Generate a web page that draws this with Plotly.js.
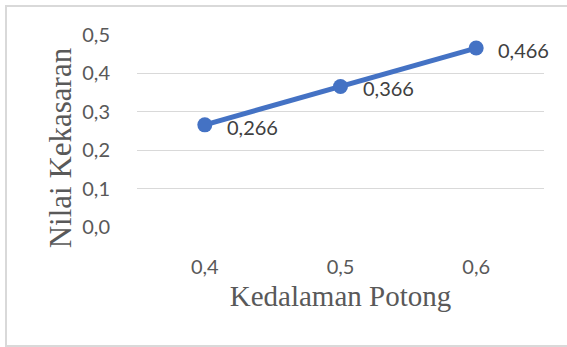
<!DOCTYPE html>
<html>
<head>
<meta charset="utf-8">
<script src="https://cdn.plot.ly/plotly-3.0.1.min.js"></script>
<style>
html,body{margin:0;padding:0;background:#fff;}
#wrap{position:relative;width:567px;height:347px;overflow:hidden;}
#chart{width:567px;height:347px;}
#frame{position:absolute;left:5px;top:5px;width:570px;height:338px;border:2px solid #d9d9d9;pointer-events:none;}
</style>
</head>
<body>
<div id="wrap"><div id="chart"></div><div id="frame"></div></div>
<script>
const categories = ["0,4", "0,5", "0,6"];
const values = [0.266, 0.366, 0.466];
const valueLabels = ["0,266", "0,366", "0,466"];
const yTickVals = [0, 0.1, 0.2, 0.3, 0.4, 0.5];
const yTickText = ["0,0", "0,1", "0,2", "0,3", "0,4", "0,5"];
const xTitle = "Kedalaman Potong";
const yTitle = "Nilai Kekasaran";

const labelFont = {family: "Lato, 'Open Sans', sans-serif", size: 20, color: "#404040"};

const trace = {
  x: categories,
  y: values,
  type: "scatter",
  mode: "lines+markers",
  line: {color: "#4472C4", width: 5},
  marker: {color: "#4472C4", size: 15},
  cliponaxis: false,
  hoverinfo: "none"
};

const annotations = categories.map((c, i) => ({
  x: c, y: values[i], xref: "x", yref: "y",
  text: valueLabels[i], showarrow: false,
  xanchor: "left", yanchor: "middle",
  xshift: 20, yshift: -2,
  font: labelFont
}));
annotations.push({
  xref: "paper", yref: "paper", x: -0.189, y: 0.41,
  text: yTitle, showarrow: false, textangle: -90,
  xanchor: "center", yanchor: "middle",
  font: {family: "'Liberation Serif', serif", size: 31, color: "#595959"}
});

const layout = {
  width: 567, height: 347,
  margin: {l: 137, r: 23, t: 35, b: 120},
  paper_bgcolor: "#fff", plot_bgcolor: "#fff",
  showlegend: false,
  annotations: annotations,
  xaxis: {
    type: "category",
    range: [-0.5, 2.5],
    showgrid: false, zeroline: false, showline: false,
    ticks: "outside", ticklen: 22, tickcolor: "rgba(0,0,0,0)",
    tickfont: {family: "Lato, 'Open Sans', sans-serif", size: 20, color: "#595959"},
    title: {text: xTitle, font: {family: "'Liberation Serif', serif", size: 29, color: "#595959"}, standoff: 8}
  },
  yaxis: {
    range: [0, 0.5],
    tickvals: yTickVals, ticktext: yTickText,
    showgrid: true, gridcolor: "#d9d9d9", gridwidth: 1.3,
    zeroline: false, showline: false,
    ticks: "outside", ticklen: 22, tickcolor: "rgba(0,0,0,0)",
    tickfont: {family: "Lato, 'Open Sans', sans-serif", size: 20, color: "#595959"}
  }
};

Plotly.newPlot("chart", [trace], layout, {staticPlot: true, displayModeBar: false});
</script>
</body>
</html>
